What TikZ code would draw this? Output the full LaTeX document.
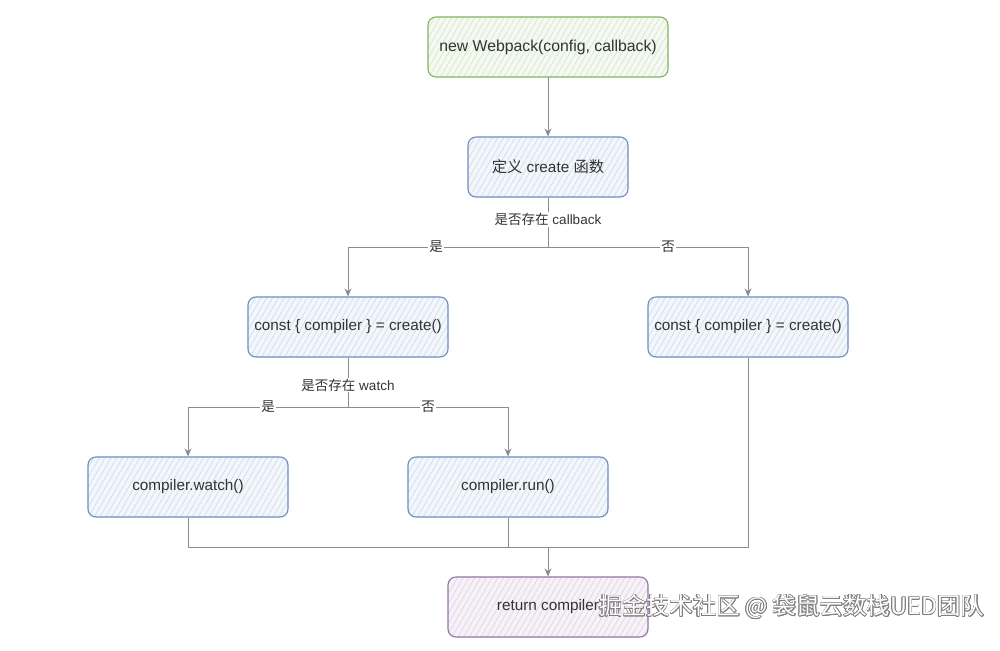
\documentclass[tikz,border=0pt]{standalone}
\usepackage{fontspec}
\setmainfont{Liberation Sans}
\newfontfamily\cjk{Noto Sans CJK SC}
\usepackage[copies]{contour}
\usetikzlibrary{arrows.meta,patterns.meta}
\definecolor{textgray}{HTML}{333333}
\definecolor{linegray}{HTML}{8C8C8C}
\definecolor{blueline}{HTML}{6C8EBF}
\definecolor{bluefill}{HTML}{F3F7FB}
\definecolor{bluehatch}{HTML}{C9DAEC}
\definecolor{greenline}{HTML}{82B366}
\definecolor{greenfill}{HTML}{F4F9F1}
\definecolor{greenhatch}{HTML}{D3E6C8}
\definecolor{purpleline}{HTML}{9673A6}
\definecolor{purplefill}{HTML}{F6F2F7}
\definecolor{purplehatch}{HTML}{DDD0E3}
\contourlength{0.6pt}
\begin{document}
\begin{tikzpicture}[x=1pt,y=-1pt,
  box/.style={rounded corners=8pt, minimum width=200pt, minimum height=60pt, line width=1.1pt, text=textgray, font=\fontsize{15.3}{18}\selectfont, pattern={Lines[angle=60,distance=5pt,line width=0.6pt]}},
  bluebox/.style={box, draw=blueline, preaction={fill=bluefill}, pattern color=bluehatch},
  greenbox/.style={box, draw=greenline, preaction={fill=greenfill}, pattern color=greenhatch},
  purplebox/.style={box, draw=purpleline, preaction={fill=purplefill}, pattern color=purplehatch},
  link/.style={draw=linegray, line width=1pt},
  flow/.style={link, -{Stealth[length=8pt,width=7pt]}},
  tag/.style={fill=white, inner sep=1pt, text=textgray, font=\fontsize{13.5}{16}\selectfont}]
\useasboundingbox[fill=white] (0,0) rectangle (1000,650);
\node[greenbox, minimum width=240pt, font=\fontsize{15.8}{18}\selectfont] (webpack) at (548,47) {new Webpack(config, callback)};
\node[bluebox, minimum width=160pt] (define) at (548,167) {{\cjk 定义} create {\cjk 函数}};
\node[bluebox] (hascb) at (348,327) {const \{ compiler \} = create()};
\node[bluebox] (nocb) at (748,327) {const \{ compiler \} = create()};
\node[bluebox] (watch) at (188,487) {compiler.watch()};
\node[bluebox] (run) at (508,487) {compiler.run()};
\node[purplebox] (ret) at (548,607) {return compiler};
\coordinate (fork1) at (548,247);
\coordinate (fork2) at (348,407);
\coordinate (join) at (548,547);
\draw[flow] (webpack) -- (define);
\draw[link] (define) -- (fork1) node[tag,pos=0.44] {{\cjk 是否存在} callback};
\draw[flow] (fork1) -| (hascb) node[tag,pos=0.28] {\cjk 是};
\draw[flow] (fork1) -| (nocb) node[tag,pos=0.3] {\cjk 否};
\draw[link] (hascb) -- (fork2) node[tag,pos=0.56] {{\cjk 是否存在} watch};
\draw[flow] (fork2) -| (watch) node[tag,pos=0.25] {\cjk 是};
\draw[flow] (fork2) -| (run) node[tag,pos=0.25] {\cjk 否};
\draw[link] (watch) |- (join);
\draw[link] (run) |- (join);
\draw[link] (nocb) |- (join);
\draw[flow] (join) -- (ret);
\node[anchor=west, inner sep=0pt, text=white, font=\cjk\fontsize{23.5}{26}\selectfont] (mark) at (599,607) {\contour{gray}{掘金技术社区 @ 袋鼠云数栈UED团队}};
\end{tikzpicture}
\end{document}
